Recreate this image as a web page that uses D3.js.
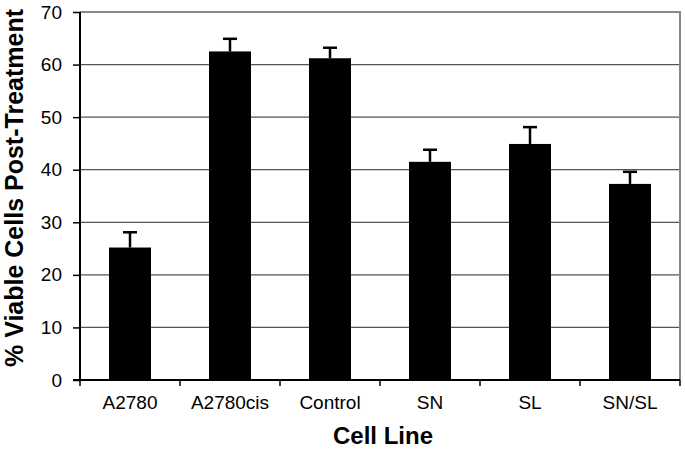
<!DOCTYPE html>
<html><head><meta charset="utf-8">
<script src="https://cdn.jsdelivr.net/npm/d3@7"></script>
<style>body{margin:0;background:#fff}svg{display:block}</style>
</head><body><div id="chart"></div>
<script>
const categories = ["A2780","A2780cis","Control","SN","SL","SN/SL"];
const values = [25.2, 62.5, 61.2, 41.5, 44.9, 37.3];
const errors = [2.9, 2.4, 2.0, 2.3, 3.2, 2.3];
const yTicks = [0,10,20,30,40,50,60,70];

const W=685,H=450, m={top:12,right:5,bottom:70,left:80};
const svg=d3.select("#chart").append("svg").attr("width",W).attr("height",H);
const x=d3.scaleBand().domain(categories).range([m.left,W-m.right]).paddingInner(0.58).paddingOuter(0.29);
const y=d3.scaleLinear().domain([0,70]).range([H-m.bottom,m.top]);
const font="Liberation Sans, Arial, Helvetica, sans-serif";

// grid
svg.append("g").selectAll("line").data(yTicks.filter(d=>d>0&&d<70)).join("line")
 .attr("x1",m.left).attr("x2",W-m.right).attr("y1",d=>y(d)).attr("y2",d=>y(d))
 .attr("stroke","#555").attr("stroke-width",1.2);
// frame top/right
svg.append("path").attr("d",`M${m.left},${y(70)}H${W-m.right}V${y(0)}`).attr("fill","none").attr("stroke","#888").attr("stroke-width",2);

// bars
svg.append("g").selectAll("rect").data(categories).join("rect")
 .attr("x",d=>x(d)).attr("width",x.bandwidth()).attr("y",(d,i)=>y(values[i]))
 .attr("height",(d,i)=>y(0)-y(values[i])).attr("fill","#000");
// error bars
const eb=svg.append("g").attr("stroke","#000").attr("stroke-width",2.5);
categories.forEach((c,i)=>{
  const cx=x(c)+x.bandwidth()/2;
  eb.append("line").attr("x1",cx).attr("x2",cx).attr("y1",y(values[i])).attr("y2",y(values[i]+errors[i]));
  eb.append("line").attr("x1",cx-7).attr("x2",cx+7).attr("y1",y(values[i]+errors[i])).attr("y2",y(values[i]+errors[i]));
});

// y axis
const ya=svg.append("g").attr("transform",`translate(${m.left},0)`)
 .call(d3.axisLeft(y).tickValues(yTicks).tickSize(7).tickPadding(11).tickFormat(d3.format("d")));
ya.select(".domain").attr("stroke","#000").attr("stroke-width",2).attr("d",`M0,${y(70)}V${y(0)}`);
ya.selectAll(".tick line").attr("stroke","#000").attr("stroke-width",1.5);
ya.selectAll("text").attr("font-family",font).attr("font-size",19).attr("fill","#000");

// x axis
const xb=svg.append("g").attr("transform",`translate(0,${y(0)})`);
xb.append("line").attr("x1",m.left-7).attr("x2",W-m.right).attr("stroke","#000").attr("stroke-width",2);
const bounds=d3.range(categories.length+1).map(i=>m.left+i*(W-m.left-m.right)/categories.length);
xb.selectAll("line.t").data(bounds).join("line").attr("class","t").attr("x1",d=>d).attr("x2",d=>d).attr("y1",0).attr("y2",6).attr("stroke","#000").attr("stroke-width",1.5);
xb.selectAll("text").data(categories).join("text").attr("x",d=>x(d)+x.bandwidth()/2).attr("y",29)
 .attr("text-anchor","middle").attr("font-family",font).attr("font-size",19).text(d=>d);

// titles
svg.append("text").attr("x",383).attr("y",444).attr("text-anchor","middle").attr("font-family",font)
 .attr("font-weight","bold").attr("font-size",24).text("Cell Line");
svg.append("text").attr("transform",`translate(23,188) rotate(-90)`).attr("text-anchor","middle")
 .attr("font-family",font).attr("font-weight","bold").attr("font-size",25).text("% Viable Cells Post-Treatment");
</script></body></html>
